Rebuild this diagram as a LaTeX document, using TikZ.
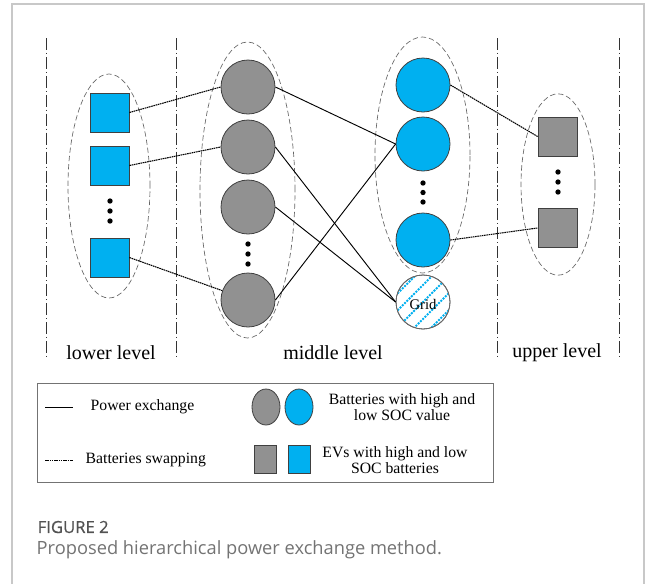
\documentclass[tikz,border=0pt]{standalone}
\usepackage{fontspec}
\usetikzlibrary{shapes.geometric}
\setmainfont{Liberation Serif}
\newfontfamily\capfont{Open Sans}
\newfontfamily\capbold[FakeBold=0.6]{Open Sans}
\definecolor{socblue}{RGB}{0,176,240}
\definecolor{socgray}{RGB}{145,145,145}
\definecolor{framegray}{RGB}{200,200,200}
\begin{document}
\begin{tikzpicture}[x=0.75pt,y=-0.75pt,
  levelline/.style={black!80,line width=0.6pt,dash pattern=on 9pt off 2.2pt on 0.8pt off 2.2pt},
  groupell/.style={draw=black!60,line width=0.5pt,dash pattern=on 4pt off 2.2pt,ellipse},
  batt/.style={circle,draw=black!75,line width=0.6pt,minimum size=40.5pt,inner sep=0pt},
  ev/.style={rectangle,draw=black!75,line width=0.6pt,minimum size=29.25pt,inner sep=0pt},
  hi/.style={fill=socgray},
  lo/.style={fill=socblue},
  swap/.style={black,line width=0.8pt,dash pattern=on 1.2pt off 0.5pt},
  power/.style={black,line width=0.7pt},
  vdot/.style={circle,fill=black,inner sep=0pt,minimum size=4pt},
  lvl/.style={font=\fontsize{15}{18}\selectfont},
  leg/.style={font=\fontsize{11.8}{14}\selectfont,align=center}
]
\useasboundingbox (0,0) rectangle (656,583);
\draw[framegray,line width=0.8pt] (12,4) rectangle (644,600);

% level separators
\foreach \xx/\nm in {46/l1,176/l2,497/l3,619/l4}{
  \coordinate (\nm t) at (\xx,38);
  \coordinate (\nm b) at (\xx,356);
  \draw[levelline] (\nm t) -- (\nm b);
}

% group ellipses
\node[groupell,minimum width=61.5pt,minimum height=168pt] (eL) at (109,186) {};
\node[groupell,minimum width=71.25pt,minimum height=222pt] (eM) at (247.5,190) {};
\node[groupell,minimum width=71.25pt,minimum height=177pt] (eR) at (422.5,155) {};
\node[groupell,minimum width=55.5pt,minimum height=136pt] (eU) at (558,184.5) {};

% lower level EVs
\node[ev,lo] (s1) at (109.5,112.5) {};
\node[ev,lo] (s2) at (109.5,165.5) {};
\node[ev,lo] (s3) at (109.5,257.5) {};
\node[vdot] (d1) at (110,201) {};
\node[vdot] (d2) at (110,211) {};
\node[vdot] (d3) at (110,221) {};

% middle level high SOC batteries
\node[batt,hi] (g1) at (248,87) {};
\node[batt,hi] (g2) at (248,147) {};
\node[batt,hi] (g3) at (248,207) {};
\node[batt,hi] (g4) at (248,300) {};
\node[vdot] (d4) at (248,244) {};
\node[vdot] (d5) at (248,254) {};
\node[vdot] (d6) at (248,264) {};

% middle level low SOC batteries
\node[batt,lo] (b1) at (423,85) {};
\node[batt,lo] (b2) at (423,144) {};
\node[batt,lo] (b3) at (423,240) {};
\node[vdot] (d7) at (423,183) {};
\node[vdot] (d8) at (423,192.5) {};
\node[vdot] (d9) at (423,202) {};

% grid
\node[batt,fill=white,draw=black!60] (grid) at (423,302) {};
\begin{scope}
  \clip (423,302) circle (26.5);
  \foreach \c in {-51,-34,-17,0,17,34,51}{
    \draw[socblue,line width=1.4pt,dash pattern=on 1.5pt off 0.9pt] (393,302+\c+30) -- (453,302+\c-30);
  }
\end{scope}
\node[batt,draw=black!60] at (423,302) {};
\node[font=\fontsize{11}{12}\selectfont] (gridlbl) at (423,304) {Grid};

% upper level EVs
\node[ev,hi] (q1) at (557.5,136.5) {};
\node[ev,hi] (q2) at (557.5,228) {};
\node[vdot] (d10) at (558,172) {};
\node[vdot] (d11) at (558,182) {};
\node[vdot] (d12) at (558,192) {};

% swapping links
\draw[swap] (s1.east) -- (g1.west);
\draw[swap] (s2.east) -- (g2.west);
\draw[swap] (s3.east) -- (g4.160);
\draw[swap] (b1.east) -- (q1.west);
\draw[swap] (b3.east) -- (q2.west);

% power exchange links
\draw[power] (g1.east) -- (b2.west);
\draw[power] (g4.east) -- (b2.west);
\draw[power] (g2.east) -- (grid.west);
\draw[power] (g3.east) -- (grid.west);

% level labels
\node[lvl] (tl) at (111,353) {lower level};
\node[lvl] (tm) at (333,353) {middle level};
\node[lvl] (tu) at (557,353) {upper level};

% legend
\node[draw=black!55,line width=0.6pt,minimum width=342pt,minimum height=74.25pt,inner sep=0pt] (legbox) at (265,432.5) {};
\coordinate (p1) at (45,407);
\coordinate (p2) at (73,407);
\draw[power] (p1) -- (p2);
\node[leg,anchor=west] (lp) at (86,407) {Power exchange};
\coordinate (w1) at (45,460);
\coordinate (w2) at (73,460);
\draw[swap,line width=0.6pt] (w1) -- (w2);
\node[leg,anchor=west] (lw) at (81,460) {Batteries swapping};
\node[ellipse,draw=black!75,line width=0.6pt,fill=socgray,minimum width=21pt,minimum height=27pt,inner sep=0pt] (lg) at (266,407) {};
\node[ellipse,draw=black!75,line width=0.6pt,fill=socblue,minimum width=21pt,minimum height=27pt,inner sep=0pt] (lb) at (299,407) {};
\node[leg] (lt1) at (402,407) {Batteries with high and\\[-2pt]low SOC value};
\node[ev,hi,minimum size=0pt,minimum width=17pt,minimum height=21pt] (lq) at (265.5,459) {};
\node[ev,lo,minimum size=0pt,minimum width=17pt,minimum height=21pt] (ls) at (299.5,459) {};
\node[leg] (lt2) at (395,460) {EVs with high and low\\[-2pt]SOC batteries};

% caption
\node[anchor=west,font=\capbold\fontsize{12.5}{14}\selectfont,text=black!68] (fig) at (33,527) {FIGURE 2};
\node[anchor=west,font=\capfont\fontsize{13.7}{16}\selectfont,text=black!55] (cap) at (32,550) {Proposed hierarchical power exchange method.};
\end{tikzpicture}
\end{document}
